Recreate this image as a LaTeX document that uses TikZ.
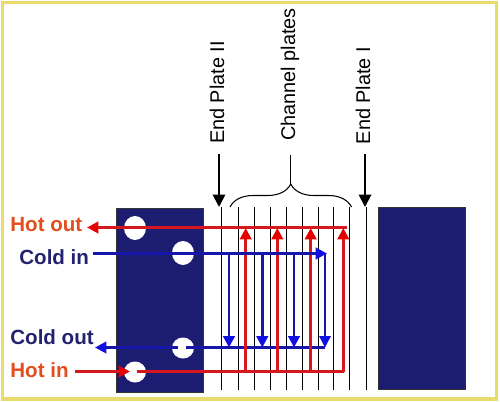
\documentclass[tikz,border=0pt]{standalone}
\usepackage{fontspec}
\setmainfont{Liberation Sans}
\usetikzlibrary{shapes.geometric,arrows.meta,decorations.pathreplacing}
\definecolor{FrameYellow}{RGB}{232,218,110}
\definecolor{PlateNavy}{RGB}{28,28,112}
\definecolor{HotRed}{RGB}{214,24,30}
\definecolor{HotText}{RGB}{226,78,30}
\definecolor{ColdBlue}{RGB}{22,22,170}
\definecolor{ColdTip}{RGB}{16,16,226}
\definecolor{ColdText}{RGB}{34,34,110}

\begin{document}
\begin{tikzpicture}[
  x=0.02cm, y=-0.02cm,
  platebox/.style={
    rectangle, draw=black!80, fill=PlateNavy, line width=0.5pt,
    minimum width=1.74cm, inner sep=0pt
  },
  porthole/.style={
    ellipse, fill=white, minimum width=0.44cm, minimum height=0.48cm, inner sep=0pt
  },
  sheet/.style={black, line width=0.6pt},
  hotarr/.style={HotRed, line width=2pt, -{Triangle[length=2.3mm,width=2.3mm,color=red!90!black]}},
  hotline/.style={HotRed, line width=2pt},
  coldarr/.style={ColdBlue, line width=1.6pt, -{Triangle[length=2.3mm,width=2.3mm,color=ColdTip]}},
  coldline/.style={ColdBlue, line width=1.4pt},
  markarr/.style={black, line width=1.1pt, -{Triangle[length=2.5mm,width=2.5mm]}},
  toplabel/.style={rotate=90, font=\fontsize{11.3}{13}\selectfont, inner sep=0pt},
  hotlabel/.style={anchor=west, inner sep=0pt, text=HotText, font=\fontsize{11.7}{14}\selectfont\bfseries},
  coldlabel/.style={anchor=west, inner sep=0pt, text=ColdText, font=\fontsize{11.7}{14}\selectfont\bfseries}
]
\useasboundingbox (0,0) rectangle (500,402);

% --- Frame
\draw[FrameYellow, line width=2.1pt] (2.5,2.5) rectangle (496.5,399);

% --- Plates
\node[platebox, minimum height=3.68cm] (plateleft)  at (159.5,300) {};
\node[platebox, minimum height=3.64cm] (plateright) at (421.5,298) {};

% --- Port holes
\node[porthole] (hotouthole)  at (135,228) {};
\node[porthole] (coldinhole)  at (183,253) {};
\node[porthole, minimum height=0.42cm] (coldouthole) at (183,348) {};
\node[porthole, minimum height=0.42cm] (hotinhole)   at (135,372) {};

% --- Plate sheets
\foreach \sx in {221.7,238.3,254.3,270.3,286.3,302.3,318.3,333.7,349.3,366.3}
  \draw[sheet] (\sx,207) -- (\sx,390);

% --- Top labels
\node[toplabel] (endtwo)  at (217,92.5) {End Plate II};
\node[toplabel] (channel) at (290,74.5) {Channel plates};
\node[toplabel] (endone)  at (363,95.5) {End Plate I};

% --- Marker arrows and brace
\coordinate (endtwotop) at (219,154);
\coordinate (endtwoend) at (219,207);
\coordinate (endonetop) at (365,154);
\coordinate (endoneend) at (365,207);
\coordinate (braceleft)  at (230,207);
\coordinate (braceright) at (351.5,207);
\coordinate (bracetip)   at (290.7,184);
\coordinate (bracetop)   at (290.7,155);
\draw[markarr] (endtwotop) -- (endtwoend);
\draw[markarr] (endonetop) -- (endoneend);
\draw[sheet, decorate, decoration={brace, amplitude=0.46cm}] (braceleft) -- (braceright);
\draw[sheet] (bracetip) -- (bracetop);

% --- Cold out side (under the hot lines)
\coordinate (coldoutend)   at (186,347.5);
\coordinate (coldoutright) at (325,347.5);
\coordinate (coldoutstart) at (178,347.5);
\coordinate (coldoutfree)  at (95,347.5);
\draw[coldline] (coldoutend) -- (coldoutright);
\draw[coldarr, line width=1.8pt] (coldoutstart) -- (coldoutfree);

% --- Hot circuit
\coordinate (hotoutright) at (347,227.5);
\coordinate (hotoutfree)  at (87,227.5);
\coordinate (hotinfree)   at (75,371.5);
\coordinate (hotinport)   at (130,371.5);
\coordinate (hotinstart)  at (137,371.5);
\coordinate (hotinright)  at (343.5,371.5);
\coordinate (hottop) at (0,228);
\coordinate (hotup1) at (245.7,371.5);
\coordinate (hotup2) at (277.3,371.5);
\coordinate (hotup3) at (310.7,371.5);
\coordinate (hotup4) at (343.3,371.5);
\draw[hotarr] (hotoutright) -- (hotoutfree);
\draw[hotarr] (hotinfree) -- (hotinport);
\draw[hotline] (hotinstart) -- (hotinright);
\draw[hotarr] (hotup1) -- (hotup1 |- hottop);
\draw[hotarr, line width=1.5pt] (hotup2) -- (hotup2 |- hottop);
\draw[hotarr] (hotup3) -- (hotup3 |- hottop);
\draw[hotarr, line width=1.5pt] (hotup4) -- (hotup4 |- hottop);

% --- Cold circuit
\coordinate (coldinfree) at (93,253.5);
\coordinate (coldintip)  at (327,253.5);
\coordinate (colddown1) at (229,253.5);
\coordinate (colddown2) at (262.3,253.5);
\coordinate (colddown3) at (294,253.5);
\coordinate (colddown4) at (325,253.5);
\draw[coldarr, line width=1.9pt] (coldinfree) -- (coldintip);
\draw[coldarr] (colddown1) -- (colddown1 |- coldoutright);
\draw[coldarr] (colddown2) -- (colddown2 |- coldoutright);
\draw[coldarr] (colddown3) -- (colddown3 |- coldoutright);
\draw[coldarr, line width=0.8pt] (colddown4) -- (colddown4 |- coldoutright);

% --- Port labels
\node[hotlabel]  (hotoutlabel)  at (10,225) {Hot out};
\node[coldlabel] (coldinlabel)  at (19,257) {Cold in};
\node[coldlabel] (coldoutlabel) at (10,337) {Cold out};
\node[hotlabel]  (hotinlabel)   at (10,370) {Hot in};

\end{tikzpicture}
\end{document}
